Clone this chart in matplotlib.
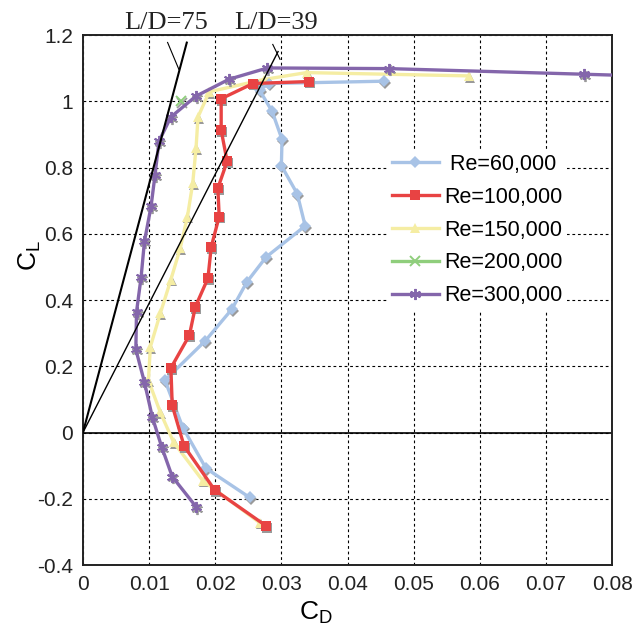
import matplotlib
matplotlib.use("Agg")
import matplotlib.pyplot as plt
from matplotlib.ticker import MultipleLocator, FuncFormatter
from matplotlib.transforms import offset_copy

plt.rcParams['font.family'] = ['Liberation Sans', 'DejaVu Sans']

# --- drag polar data (CD, CL) for each Reynolds number ---
cd_60k = [0.0252, 0.0186, 0.0151, 0.0124, 0.0185, 0.0225, 0.0248, 0.0277,
          0.0336, 0.0324, 0.0300, 0.0301, 0.0286, 0.0267, 0.0281, 0.0455]
cl_60k = [-0.196, -0.108, 0.015, 0.158, 0.277, 0.372, 0.455, 0.530,
          0.624, 0.721, 0.806, 0.885, 0.970, 1.034, 1.054, 1.061]

cd_100k = [0.0277, 0.0199, 0.0153, 0.0135, 0.0133, 0.0161, 0.0170, 0.0189,
           0.0194, 0.0206, 0.0204, 0.0218, 0.0209, 0.0209, 0.0257, 0.0342]
cl_100k = [-0.282, -0.173, -0.041, 0.082, 0.195, 0.294, 0.380, 0.466,
           0.561, 0.652, 0.738, 0.819, 0.913, 1.008, 1.054, 1.060]

cd_150k = [0.0267, 0.0181, 0.0137, 0.0117, 0.0099, 0.0102, 0.0117, 0.0133,
           0.0147, 0.0158, 0.0166, 0.0171, 0.0174, 0.0191, 0.0273, 0.0338, 0.0584]
cl_150k = [-0.272, -0.145, -0.029, 0.061, 0.158, 0.259, 0.360, 0.462,
           0.556, 0.652, 0.753, 0.859, 0.953, 1.029, 1.066, 1.087, 1.077]

cd_200k = [0.0148]
cl_200k = [1.001]

cd_300k = [0.0171, 0.0135, 0.0119, 0.0105, 0.0093, 0.0080, 0.0081, 0.0088,
           0.0093, 0.0103, 0.0109, 0.0115, 0.0133, 0.0171, 0.0221, 0.0279,
           0.0463, 0.0758, 0.0860]
cl_300k = [-0.224, -0.133, -0.043, 0.046, 0.152, 0.251, 0.364, 0.470,
           0.577, 0.683, 0.778, 0.880, 0.953, 1.016, 1.067, 1.101,
           1.099, 1.082, 1.076]

labels = [' Re=60,000', 'Re=100,000', 'Re=150,000', 'Re=200,000', 'Re=300,000']
colors = ['#a8c3e6', '#e84343', '#f5eda3', '#8fce7c', '#8466ab']
markers = ['D', 's', '^', 'x', (6, 2, 0)]
msizes = [6, 7.5, 7, 6.5, 8]
zorders = [3, 4, 2, 5, 6]

# tangent lines from the origin
ld_ratios = [75, 39]
ld_cd_end = [0.0157, 0.0295]
ld_widths = [1.5, 1.0]

series = [(cd_60k, cl_60k), (cd_100k, cl_100k), (cd_150k, cl_150k),
          (cd_200k, cl_200k), (cd_300k, cl_300k)]

fig = plt.figure(figsize=(6.33, 6.28), dpi=100)
ax = fig.add_axes([0.131, 0.1003, 0.836, 0.8437])

shadow = offset_copy(ax.transData, fig=fig, x=1.0, y=-1.8, units='dots')

handles = []
for (cd, cl), lab, col, mk, ms, z in zip(series, labels, colors, markers, msizes, zorders):
    # grey drop shadow under the markers
    ax.plot(cd, cl, linestyle='none', marker=mk, markersize=ms, color='#9a9a9a',
            markeredgewidth=1.3 if mk in ('x', (6, 2, 0)) else 0,
            transform=shadow, zorder=z - 0.5)
    h, = ax.plot(cd, cl, color=col, linewidth=2.4, marker=mk, markersize=ms,
                 markeredgewidth=1.4 if mk in ('x', (6, 2, 0)) else 0,
                 markeredgecolor=col, label=lab, zorder=z)
    handles.append(h)

for ratio, cd_end, lw in zip(ld_ratios, ld_cd_end, ld_widths):
    ax.plot([0, cd_end], [0, ratio * cd_end], color='black', linewidth=lw, zorder=8)

# leader lines and labels above the frame
ax.plot([0.0128, 0.0145], [1.178, 1.097], color='black', linewidth=0.8, zorder=8, clip_on=False)
ax.plot([0.0287, 0.0298], [1.172, 1.127], color='black', linewidth=0.8, zorder=8, clip_on=False)
ax.text(0.0126, 1.205, 'L/D=75', family=['Liberation Serif', 'DejaVu Serif'], fontsize=19,
        ha='center', va='bottom', color='#222222', clip_on=False)
ax.text(0.0292, 1.205, 'L/D=39', family=['Liberation Serif', 'DejaVu Serif'], fontsize=19,
        ha='center', va='bottom', color='#222222', clip_on=False)

ax.axhline(0, color='black', linewidth=1.2, zorder=1)

ax.set_xlim(0, 0.08)
ax.set_ylim(-0.4, 1.2)
ax.xaxis.set_major_locator(MultipleLocator(0.01))
ax.yaxis.set_major_locator(MultipleLocator(0.2))
ax.xaxis.set_major_formatter(FuncFormatter(lambda v, p: '{:g}'.format(round(v, 3))))
ax.yaxis.set_major_formatter(FuncFormatter(lambda v, p: '{:g}'.format(round(v, 2))))
ax.tick_params(length=0, labelsize=15, colors='#222222', pad=7)
ax.grid(True, color='black', linestyle=(0, (2.5, 2.5)), linewidth=0.8, zorder=0)
ax.set_axisbelow(True)
for s in ax.spines.values():
    s.set_linewidth(1.4)
    s.set_color('#222222')

ax.set_xlabel(r'$\mathregular{C_D}$', fontsize=19, va='center')
ax.set_ylabel(r'$\mathregular{C_L}$', fontsize=19, va='center')
ax.xaxis.set_label_coords(0.44, -0.09)
ax.yaxis.set_label_coords(-0.10, 0.585)

leg = ax.legend(handles=handles, loc='center left', bbox_to_anchor=(0.575, 0.632),
                fontsize=15.5, frameon=True, facecolor='white', edgecolor='none',
                framealpha=1, handlelength=2.2, handletextpad=0.25, labelspacing=0.55,
                borderpad=0.2, borderaxespad=0)
leg.set_zorder(9)

fig.savefig('out.png', dpi=100)
